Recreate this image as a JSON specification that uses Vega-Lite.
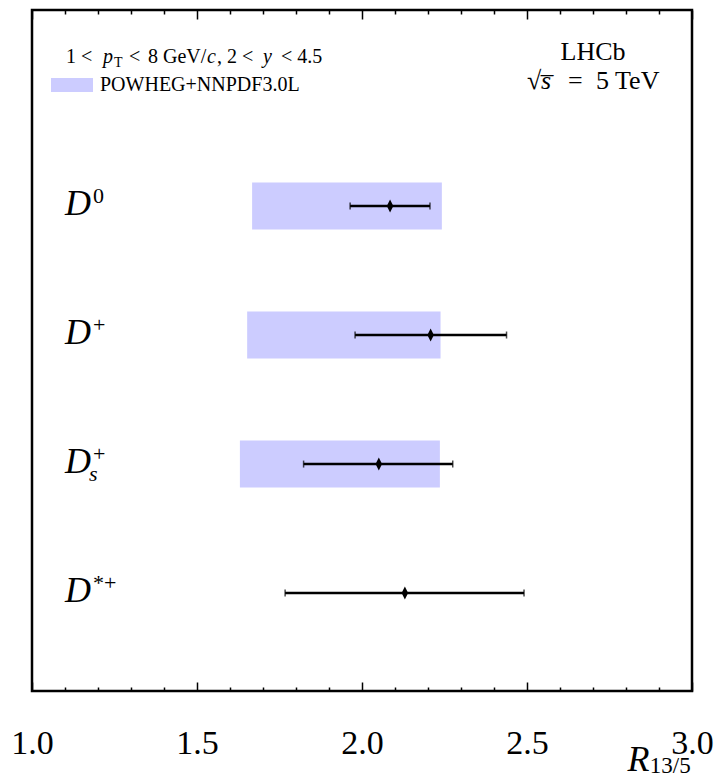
{
  "$schema": "https://vega.github.io/schema/vega-lite/v6.json",
  "width": 660,
  "height": 681,
  "autosize": {"type": "none"},
  "padding": {"left": 32, "top": 10, "right": 26, "bottom": 89},
  "background": "white",
  "config": {
    "view": {"stroke": "black", "strokeWidth": 2.5},
    "font": "Liberation Serif",
    "style": {"guide-label": {"font": "Liberation Serif", "fill": "black"}, "guide-title": {"font": "Liberation Serif", "fill": "black"}},
    "axis": {
      "domain": false,
      "grid": false,
      "tickColor": "black",
      "tickWidth": 1.5,
      "labelFont": "Liberation Serif",
      "labelFontSize": 34,
      "labelColor": "black",
      "labelFlush": false,
      "labelOverlap": false,
      "titleColor": "black"
    },
    "legend": {
      "orient": "none",
      "legendX": 19,
      "legendY": 54,
      "padding": 0,
      "labelFont": "Liberation Serif",
      "labelFontSize": 20,
      "labelColor": "black",
      "labelLimit": 0,
      "labelOffset": 7,
      "symbolType": "M-1,-0.333L1,-0.333L1,0.333L-1,0.333Z",
      "symbolSize": 1764,
      "symbolStrokeWidth": 0,
      "symbolOpacity": 1
    }
  },
  "datasets": {
    "rows": [
      {"meson": "D0", "v": 4, "val": 2.085, "lo": 1.964, "hi": 2.206, "blo": 1.667, "bhi": 2.242, "sup": "0", "sub": ""},
      {"meson": "D+", "v": 3, "val": 2.208, "lo": 1.979, "hi": 2.438, "blo": 1.652, "bhi": 2.238, "sup": "+", "sub": ""},
      {"meson": "Ds+", "v": 2, "val": 2.051, "lo": 1.823, "hi": 2.275, "blo": 1.630, "bhi": 2.236, "sup": "+", "sub": "s"},
      {"meson": "D*+", "v": 1, "val": 2.130, "lo": 1.767, "hi": 2.491, "blo": null, "bhi": null, "sup": "*+", "sub": ""}
    ]
  },
  "data": {"name": "rows"},
  "layer": [
    {
      "transform": [{"filter": "isValid(datum.blo)"}],
      "mark": {"type": "bar", "orient": "horizontal", "size": 47},
      "encoding": {
        "x": {"field": "blo", "type": "quantitative", "scale": {"domain": [1, 3], "nice": false, "zero": false},
          "axis": {"orient": "bottom", "values": [1, 1.5, 2, 2.5, 3], "format": ".1f", "tickSize": -9, "labelPadding": 71, "labelBaseline": "alphabetic",
            "labelFont": "Liberation Serif", "labelFontSize": 34, "labelFlush": false,
            "title": "R", "titleFont": "Liberation Serif", "titleFontStyle": "italic", "titleFontWeight": "normal", "titleFontSize": 36,
            "titleX": 617, "titleY": 79, "titleAlign": "right", "titleBaseline": "alphabetic", "titleAnchor": null}},
        "x2": {"field": "bhi"},
        "y": {"field": "v", "type": "quantitative", "scale": {"domain": [0.28, 5.48], "nice": false, "zero": false}, "axis": null},
        "color": {"datum": "POWHEG+NNPDF3.0L", "type": "nominal", "scale": {"range": ["#ccccff"]}, "legend": {"title": null}}
      }
    },
    {
      "mark": {"type": "rule", "color": "black", "strokeWidth": 2.5},
      "encoding": {
        "x": {"field": "lo", "type": "quantitative", "scale": {"domain": [1, 3], "nice": false, "zero": false},
          "axis": {"orient": "bottom", "values": [1.1, 1.2, 1.3, 1.4, 1.6, 1.7, 1.8, 1.9, 2.1, 2.2, 2.3, 2.4, 2.6, 2.7, 2.8, 2.9], "tickSize": -4, "labels": false, "title": null}},
        "x2": {"field": "hi"},
        "y": {"field": "v", "type": "quantitative", "axis": null}
      }
    },
    {
      "mark": {"type": "tick", "orient": "vertical", "color": "black", "size": 7, "thickness": 1.5},
      "encoding": {
        "x": {"field": "lo", "type": "quantitative",
          "axis": {"orient": "top", "values": [1, 1.5, 2, 2.5, 3], "tickSize": -9, "labels": false, "title": null}},
        "y": {"field": "v", "type": "quantitative", "axis": null}
      }
    },
    {
      "mark": {"type": "tick", "orient": "vertical", "color": "black", "size": 7, "thickness": 1.5},
      "encoding": {
        "x": {"field": "hi", "type": "quantitative",
          "axis": {"orient": "top", "values": [1.1, 1.2, 1.3, 1.4, 1.6, 1.7, 1.8, 1.9, 2.1, 2.2, 2.3, 2.4, 2.6, 2.7, 2.8, 2.9], "tickSize": -4, "labels": false, "title": null}},
        "y": {"field": "v", "type": "quantitative", "axis": null}
      }
    },
    {
      "mark": {"type": "point", "shape": "M0,-1L0.5,0L0,1L-0.5,0Z", "filled": true, "color": "black", "opacity": 1, "size": 169},
      "encoding": {
        "x": {"field": "val", "type": "quantitative", "axis": null},
        "y": {"field": "v", "type": "quantitative", "axis": null}
      }
    },
    {
      "mark": {"type": "text", "text": "D", "font": "Liberation Serif", "fontStyle": "italic", "fontSize": 36, "align": "left", "baseline": "alphabetic", "dy": 9, "color": "black"},
      "encoding": {
        "x": {"datum": 1.1, "type": "quantitative", "axis": null},
        "y": {"field": "v", "type": "quantitative", "axis": null}
      }
    },
    {
      "mark": {"type": "text", "font": "Liberation Serif", "fontSize": 22, "align": "left", "baseline": "alphabetic", "dx": 28, "dy": -3, "color": "black"},
      "encoding": {
        "x": {"datum": 1.1, "type": "quantitative", "axis": null},
        "y": {"field": "v", "type": "quantitative", "axis": null},
        "text": {"field": "sup"}
      }
    },
    {
      "mark": {"type": "text", "font": "Liberation Serif", "fontStyle": "italic", "fontSize": 22, "align": "left", "baseline": "alphabetic", "dx": 24, "dy": 17, "color": "black"},
      "encoding": {
        "x": {"datum": 1.1, "type": "quantitative", "axis": null},
        "y": {"field": "v", "type": "quantitative", "axis": null},
        "text": {"field": "sub"}
      }
    },
    {
      "data": {"values": [{}]},
      "layer": [
        {"mark": {"type": "text", "text": "1 <", "fontSize": 20, "align": "left", "baseline": "alphabetic", "dx": 34, "color": "black"},
         "encoding": {"x": {"datum": 1, "type": "quantitative", "axis": null}, "y": {"datum": 5.106, "type": "quantitative", "axis": null}}},
        {"mark": {"type": "text", "text": "p", "fontStyle": "italic", "fontSize": 20, "align": "left", "baseline": "alphabetic", "dx": 71, "color": "black"},
         "encoding": {"x": {"datum": 1, "type": "quantitative", "axis": null}, "y": {"datum": 5.106, "type": "quantitative", "axis": null}}},
        {"mark": {"type": "text", "text": "T", "fontSize": 14, "align": "left", "baseline": "alphabetic", "dx": 82, "dy": 4, "color": "black"},
         "encoding": {"x": {"datum": 1, "type": "quantitative", "axis": null}, "y": {"datum": 5.106, "type": "quantitative", "axis": null}}},
        {"mark": {"type": "text", "text": "<", "fontSize": 20, "align": "left", "baseline": "alphabetic", "dx": 97, "color": "black"},
         "encoding": {"x": {"datum": 1, "type": "quantitative", "axis": null}, "y": {"datum": 5.106, "type": "quantitative", "axis": null}}},
        {"mark": {"type": "text", "text": "8 GeV/", "fontSize": 20, "align": "left", "baseline": "alphabetic", "dx": 116, "color": "black"},
         "encoding": {"x": {"datum": 1, "type": "quantitative", "axis": null}, "y": {"datum": 5.106, "type": "quantitative", "axis": null}}},
        {"mark": {"type": "text", "text": "c", "fontStyle": "italic", "fontSize": 20, "align": "left", "baseline": "alphabetic", "dx": 175, "color": "black"},
         "encoding": {"x": {"datum": 1, "type": "quantitative", "axis": null}, "y": {"datum": 5.106, "type": "quantitative", "axis": null}}},
        {"mark": {"type": "text", "text": ", 2 <", "fontSize": 20, "align": "left", "baseline": "alphabetic", "dx": 185, "color": "black"},
         "encoding": {"x": {"datum": 1, "type": "quantitative", "axis": null}, "y": {"datum": 5.106, "type": "quantitative", "axis": null}}},
        {"mark": {"type": "text", "text": "y", "fontStyle": "italic", "fontSize": 20, "align": "left", "baseline": "alphabetic", "dx": 231, "color": "black"},
         "encoding": {"x": {"datum": 1, "type": "quantitative", "axis": null}, "y": {"datum": 5.106, "type": "quantitative", "axis": null}}},
        {"mark": {"type": "text", "text": "< 4.5", "fontSize": 20, "align": "left", "baseline": "alphabetic", "dx": 249, "color": "black"},
         "encoding": {"x": {"datum": 1, "type": "quantitative", "axis": null}, "y": {"datum": 5.106, "type": "quantitative", "axis": null}}},
        {"mark": {"type": "text", "text": "LHCb", "fontSize": 26, "align": "center", "baseline": "alphabetic", "dx": 561, "color": "black"},
         "encoding": {"x": {"datum": 1, "type": "quantitative", "axis": null}, "y": {"datum": 5.13, "type": "quantitative", "axis": null}}},
        {"mark": {"type": "text", "text": "√", "fontSize": 26, "align": "left", "baseline": "alphabetic", "dx": 495, "color": "black"},
         "encoding": {"x": {"datum": 1, "type": "quantitative", "axis": null}, "y": {"datum": 4.907, "type": "quantitative", "axis": null}}},
        {"mark": {"type": "text", "text": "s̅", "fontStyle": "italic", "fontSize": 26, "align": "left", "baseline": "alphabetic", "dx": 509, "color": "black"},
         "encoding": {"x": {"datum": 1, "type": "quantitative", "axis": null}, "y": {"datum": 4.907, "type": "quantitative", "axis": null}}},
        {"mark": {"type": "text", "text": "=", "fontSize": 26, "align": "left", "baseline": "alphabetic", "dx": 536, "color": "black"},
         "encoding": {"x": {"datum": 1, "type": "quantitative", "axis": null}, "y": {"datum": 4.907, "type": "quantitative", "axis": null}}},
        {"mark": {"type": "text", "text": "5 TeV", "fontSize": 26, "align": "left", "baseline": "alphabetic", "dx": 564, "color": "black"},
         "encoding": {"x": {"datum": 1, "type": "quantitative", "axis": null}, "y": {"datum": 4.907, "type": "quantitative", "axis": null}}},
        {"mark": {"type": "text", "text": "13/5", "fontSize": 23, "align": "left", "baseline": "alphabetic", "color": "black"},
         "encoding": {"x": {"datum": 2.872, "type": "quantitative", "axis": null}, "y": {"datum": -0.392, "type": "quantitative", "axis": null}}}
      ]
    }
  ],
  "resolve": {"axis": {"x": "independent"}}
}
